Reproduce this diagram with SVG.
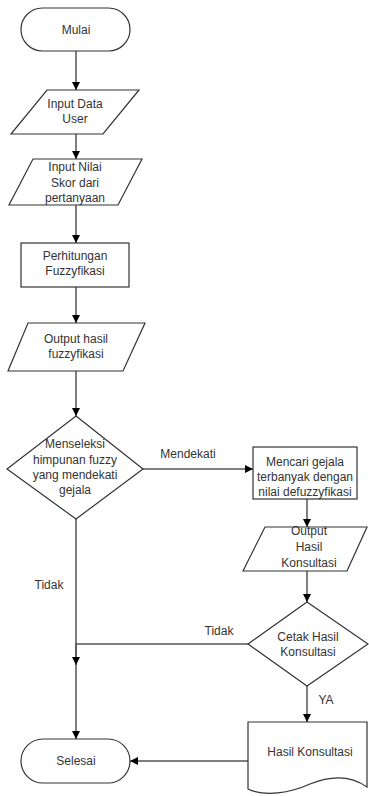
<svg xmlns="http://www.w3.org/2000/svg" width="369" height="796" viewBox="0 0 369 796">
<defs>
<style>
.s{fill:#fff;stroke:#333;stroke-width:1.2}
.c{fill:none;stroke:#555;stroke-width:1.5}
text{font-family:"Liberation Sans",Arial,sans-serif;font-size:12px;fill:#333;text-anchor:middle}
.l{text-anchor:start}
</style>
<marker id="a" markerUnits="userSpaceOnUse" markerWidth="9" markerHeight="9" refX="8" refY="4" orient="auto"><path d="M0,0 L8,4 L0,8 z" fill="#000"/></marker>
</defs>
<rect width="369" height="796" fill="#fff"/>
<g id="connectors">
<path class="c" d="M76,51 V90" marker-end="url(#a)"/>
<path class="c" d="M76,134 V159" marker-end="url(#a)"/>
<path class="c" d="M76,205 V243" marker-end="url(#a)"/>
<path class="c" d="M76,287 V323" marker-end="url(#a)"/>
<path class="c" d="M76,371 V416" marker-end="url(#a)"/>
<path class="c" d="M143,469 H253" marker-end="url(#a)"/>
<path class="c" d="M307,499 V527" marker-end="url(#a)"/>
<path class="c" d="M307,571 V602" marker-end="url(#a)"/>
<path class="c" d="M307,686 V722" marker-end="url(#a)"/>
<path class="c" d="M76,519 V739" marker-end="url(#a)"/>
<path class="c" d="M248,644 H76 V665" marker-end="url(#a)"/>
<path class="c" d="M248,761 H130" marker-end="url(#a)"/>
<text x="188" y="458">Mendekati</text>
<text x="49" y="589">Tidak</text>
<text x="219" y="635">Tidak</text>
<text x="326" y="704">YA</text>
</g>
<g id="mulai">
<rect class="s" x="21" y="8" width="109" height="43" rx="21.5"/>
<text x="76" y="34">Mulai</text>
</g>
<g id="input-data">
<polygon class="s" points="47,90 139,90 103,134 11,134"/>
<text x="75" y="108">Input Data</text>
<text x="75" y="123">User</text>
</g>
<g id="input-nilai">
<polygon class="s" points="33,159 142,159 118,205 9,205"/>
<text x="75" y="171">Input Nilai</text>
<text x="75" y="187">Skor dari</text>
<text x="75" y="202">pertanyaan</text>
</g>
<g id="perhitungan">
<rect class="s" x="21" y="243" width="108" height="44"/>
<text x="75" y="260">Perhitungan</text>
<text x="75" y="275">Fuzzyfikasi</text>
</g>
<g id="output-hasil">
<polygon class="s" points="28,323 145,323 123,371 8,371"/>
<text x="76" y="343">Output hasil</text>
<text x="76" y="358">fuzzyfikasi</text>
</g>
<g id="menseleksi">
<polygon class="s" points="76,416 143,469 76,519 7,469"/>
<text x="75" y="448">Menseleksi</text>
<text x="75" y="464">himpunan fuzzy</text>
<text x="75" y="479">yang mendekati</text>
<text x="75" y="494">gejala</text>
</g>
<g id="mencari">
<rect class="s" x="253" y="447" width="104" height="52"/>
<text x="305" y="466">Mencari gejala</text>
<text x="305" y="481">terbanyak dengan</text>
<text x="305" y="496">nilai defuzzyfikasi</text>
</g>
<g id="output-konsultasi">
<polygon class="s" points="265,527 367,527 347,571 243,571"/>
<text x="309" y="535">Output</text>
<text x="309" y="551">Hasil</text>
<text x="309" y="567">Konsultasi</text>
</g>
<g id="cetak">
<polygon class="s" points="307,602 368,644 307,686 248,644"/>
<text x="308" y="641">Cetak Hasil</text>
<text x="308" y="656">Konsultasi</text>
</g>
<g id="hasil-konsultasi">
<path class="s" d="M248,722 H367 V787 C350,775 330,776 310,784 C290,793 265,797 248,789 Z"/>
<text x="310" y="756">Hasil Konsultasi</text>
</g>
<g id="selesai">
<rect class="s" x="21" y="739" width="109" height="44" rx="22"/>
<text x="76" y="765">Selesai</text>
</g>
</svg>
